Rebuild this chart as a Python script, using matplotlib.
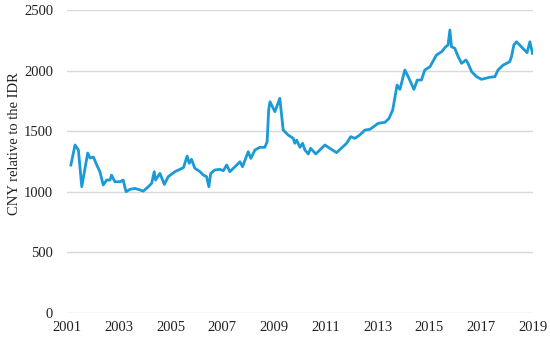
import matplotlib
matplotlib.use("Agg")
import matplotlib.pyplot as plt

# decimal years and CNY/IDR values
years = [2001.15, 2001.31, 2001.44, 2001.57, 2001.80, 2001.89, 2002.02, 2002.15,
         2002.27, 2002.40, 2002.53, 2002.66, 2002.72, 2002.85, 2003.05, 2003.17,
         2003.28, 2003.43, 2003.63, 2003.95, 2004.14, 2004.27, 2004.37, 2004.42,
         2004.59, 2004.76, 2004.91, 2005.17, 2005.36, 2005.50, 2005.64, 2005.72,
         2005.81, 2005.94, 2006.14, 2006.26, 2006.39, 2006.48, 2006.55, 2006.71,
         2006.91, 2007.04, 2007.17, 2007.29, 2007.49, 2007.68, 2007.78, 2008.00,
         2008.10, 2008.26, 2008.45, 2008.64, 2008.73, 2008.79, 2008.84, 2009.03,
         2009.22, 2009.35, 2009.54, 2009.74, 2009.80, 2009.87, 2010.00, 2010.10,
         2010.19, 2010.32, 2010.41, 2010.61, 2010.96, 2011.41, 2011.80, 2011.96,
         2012.12, 2012.31, 2012.51, 2012.70, 2013.02, 2013.28, 2013.44, 2013.58,
         2013.66, 2013.75, 2013.86, 2014.05, 2014.18, 2014.40, 2014.53, 2014.69,
         2014.82, 2015.02, 2015.27, 2015.47, 2015.63, 2015.72, 2015.79, 2015.85,
         2015.98, 2016.11, 2016.24, 2016.41, 2016.49, 2016.63, 2016.82, 2017.01,
         2017.33, 2017.53, 2017.65, 2017.85, 2018.10, 2018.17, 2018.26, 2018.36,
         2018.55, 2018.77, 2018.88, 2018.98]
values = [1221, 1386, 1345, 1042, 1320, 1279, 1287, 1221,
          1166, 1056, 1097, 1097, 1138, 1083, 1083, 1097,
          1001, 1020, 1028, 1006, 1042, 1070, 1166, 1097,
          1152, 1061, 1125, 1166, 1185, 1200, 1295, 1235,
          1268, 1194, 1166, 1139, 1125, 1042, 1152, 1180,
          1185, 1174, 1221, 1166, 1207, 1248, 1207, 1331,
          1276, 1345, 1367, 1367, 1413, 1675, 1743, 1661,
          1771, 1510, 1469, 1441, 1400, 1427, 1367, 1400,
          1345, 1312, 1359, 1312, 1386, 1323, 1400, 1455,
          1441, 1469, 1510, 1515, 1565, 1573, 1606, 1675,
          1771, 1881, 1845, 2005, 1950, 1845, 1922, 1922,
          2005, 2032, 2128, 2156, 2197, 2211, 2335, 2197,
          2184, 2115, 2060, 2087, 2060, 1991, 1950, 1928,
          1945, 1950, 2005, 2046, 2073, 2115, 2211, 2238,
          2197, 2148, 2238, 2142]

xticks = list(range(2001, 2020, 2))
yticks = [0, 500, 1000, 1500, 2000, 2500]

plt.rcParams['font.family'] = ['Liberation Serif', 'DejaVu Serif']

fig = plt.figure(figsize=(5.5, 3.39), dpi=100)
ax = fig.add_axes([67 / 550, 1 - 313 / 339, 466 / 550, 303 / 339])

ax.plot(years, values, color='#1a9ad6', lw=2.0, solid_joinstyle='round')

ax.set_xlim(2001, 2019)
ax.set_ylim(0, 2500)
ax.set_xticks(xticks)
ax.set_yticks(yticks)
ax.tick_params(length=0, labelsize=10.5, colors='#222222')
ax.tick_params(axis='x', pad=6)
ax.tick_params(axis='y', pad=10)
ax.grid(axis='y', color='#d9d9d9', lw=1)
ax.set_axisbelow(True)
for s in ax.spines.values():
    s.set_visible(False)

ax.set_ylabel('CNY relative to the IDR', fontsize=10.5, color='#222222')
ax.yaxis.set_label_coords(-0.099, 0.559)

fig.savefig('out.png', dpi=100)
